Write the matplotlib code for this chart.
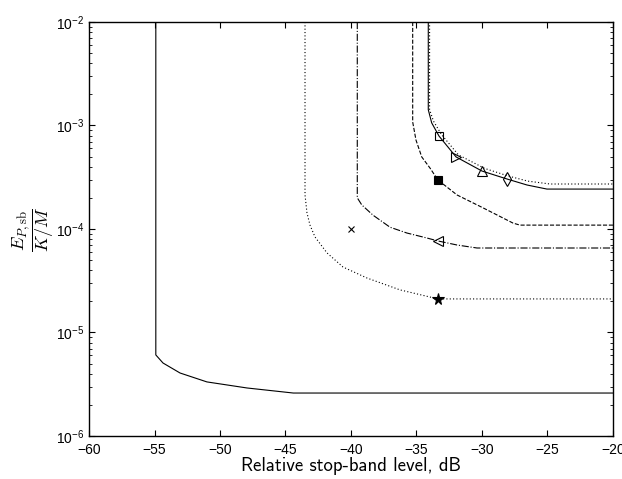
import numpy as np
import matplotlib
matplotlib.use('Agg')
import matplotlib.pyplot as plt
from matplotlib.ticker import LogLocator, NullFormatter, MultipleLocator

plt.rcParams['mathtext.fontset'] = 'cm'
plt.rcParams['font.family'] = ['Liberation Sans', 'DejaVu Sans']

# lowest solid curve
low_x = [-54.9, -54.9, -54.35, -53.05, -51.0, -47.94, -44.4, -20.0]
low_y = [1e-2, 6.07e-6, 5.07e-6, 4.06e-6, 3.33e-6, 2.91e-6, 2.6e-6, 2.6e-6]

# dotted curve with star
dot_x = [-43.51, -43.51, -43.36, -43.13, -42.75, -41.83, -40.61, -38.78, -36.26, -33.36, -20.0]
dot_y = [1e-2, 2.13e-4, 1.43e-4, 1.09e-4, 8.38e-5, 5.87e-5, 4.29e-5, 3.36e-5, 2.58e-5, 2.11e-5, 2.11e-5]

# dash-dot curve
dd_x = [-39.52, -39.52, -39.18, -38.32, -37.02, -35.73, -34.2, -33.36, -31.9, -30.38, -20.0]
dd_y = [1e-2, 2.0e-4, 1.71e-4, 1.36e-4, 1.04e-4, 9.14e-5, 8.18e-5, 7.66e-5, 7.0e-5, 6.55e-5, 6.55e-5]

# dashed curve
da_x = [-35.29, -35.29, -35.04, -34.6, -33.97, -33.36, -31.9, -29.92, -27.63, -27.1, -20.0]
da_y = [1e-2, 1.08e-3, 7.24e-4, 4.97e-4, 3.88e-4, 2.97e-4, 2.13e-4, 1.6e-4, 1.14e-4, 1.09e-4, 1.09e-4]

# upper solid curve
up_x = [-34.1, -34.1, -33.84, -33.28, -31.98, -30.0, -28.09, -26.56, -25.04, -20.0]
up_y = [1e-2, 1.42e-3, 1.06e-3, 7.9e-4, 4.97e-4, 3.63e-4, 3.04e-4, 2.66e-4, 2.43e-4, 2.43e-4]

# upper dotted curve
ud_x = [-34.0, -34.0, -33.7, -33.1, -31.8, -29.8, -28.0, -26.5, -24.8, -20.0]
ud_y = [1e-2, 1.42e-3, 1.1e-3, 8.2e-4, 5.2e-4, 3.85e-4, 3.25e-4, 2.9e-4, 2.72e-4, 2.72e-4]

# single points
pts_x = [-33.28, -31.98, -30.0, -28.09, -33.36, -40.0, -33.36, -33.36]
pts_y = [7.9e-4, 4.97e-4, 3.63e-4, 3.04e-4, 2.97e-4, 1.0e-4, 7.66e-5, 2.11e-5]
pts_m = ['s', '>', '^', 'd', 's', 'x', '<', '*']
pts_fc = ['none', 'none', 'none', 'none', 'k', 'k', 'none', 'k']
pts_ms = [6, 7.5, 7.5, 7.5, 6, 4.5, 7.5, 8.5]

fig = plt.figure(figsize=(6.22, 4.79), dpi=100)
ax = fig.add_axes([0.1431, 0.0898, 0.8424, 0.8643])

lw = 0.8
ax.semilogy(low_x, low_y, 'k-', lw=lw)
ax.semilogy(dot_x, dot_y, 'k:', lw=lw, dashes=(1, 2))
ax.semilogy(dd_x, dd_y, 'k-.', lw=lw)
ax.semilogy(da_x, da_y, 'k--', lw=lw)
ax.semilogy(ud_x, ud_y, 'k:', lw=lw, dashes=(1, 2))
ax.semilogy(up_x, up_y, 'k-', lw=lw)

for x, y, m, fc, ms in zip(pts_x, pts_y, pts_m, pts_fc, pts_ms):
    ax.plot(x, y, marker=m, mfc=fc, mec='k', ms=ms, mew=0.8, ls='none')

ax.set_xlim(-60, -20)
ax.set_ylim(1e-6, 1e-2)
ax.xaxis.set_major_locator(MultipleLocator(5))
ax.yaxis.set_major_locator(LogLocator(base=10, numticks=10))
ax.yaxis.set_minor_locator(LogLocator(base=10, subs=np.arange(2, 10), numticks=10))
ax.yaxis.set_minor_formatter(NullFormatter())
ax.tick_params(which='both', direction='in', top=True, right=True, labelsize=10)
ax.tick_params(axis='x', pad=5)
ax.tick_params(which='major', length=4)
ax.tick_params(which='minor', length=2)
for s in ax.spines.values():
    s.set_linewidth(1.0)

ax.set_xlabel('Relative stop-band level, dB', family='cmss10', fontsize=13.5, labelpad=0)
ax.set_ylabel(r'$\dfrac{E_{P,\mathrm{sb}}}{K/M}$', fontsize=13, labelpad=0)

fig.savefig('out.png', dpi=100)
